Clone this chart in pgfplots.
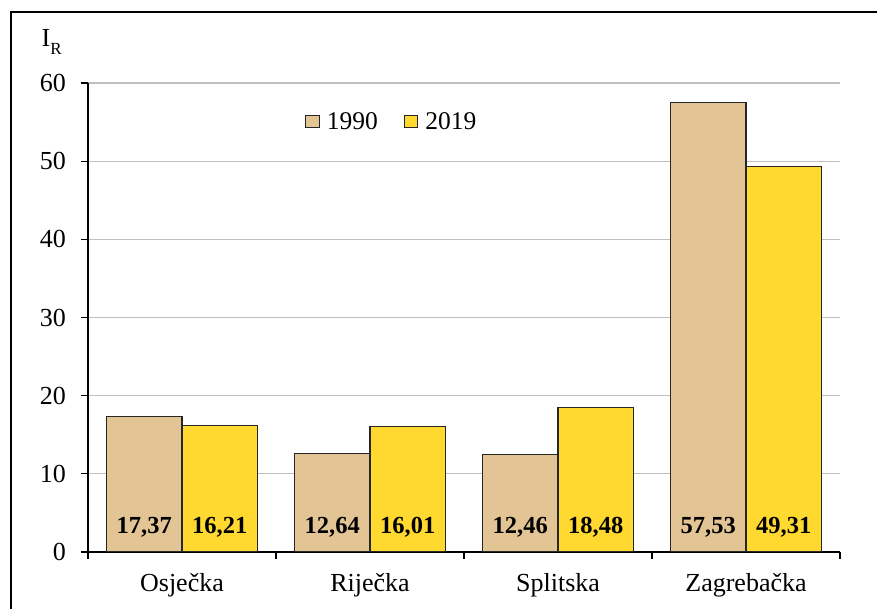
\documentclass[border=0pt]{standalone}
\usepackage{pgfplots}
\pgfplotsset{compat=1.18}
\usepackage{fontspec}
\setmainfont{Liberation Serif}
\definecolor{tanc}{RGB}{227,196,148}
\definecolor{yel}{RGB}{255,217,47}
\definecolor{gridc}{RGB}{192,192,192}
\begin{document}
\begin{tikzpicture}[x=1pt,y=1pt]
\useasboundingbox (0,0) rectangle (877,609);
\draw[line width=2pt] (10.5,-5) -- (10.5,596.5) -- (880,596.5);
\begin{axis}[
  at={(88pt,57pt)}, anchor=south west,
  scale only axis, width=752pt, height=469pt,
  xmin=-0.5, xmax=3.5, ymin=0, ymax=60,
  ybar=0pt, bar width=75.5pt,
  axis lines=left, axis line style={-, line width=1.3pt},
  tick align=outside,
  xtick={0,1,2,3}, xticklabels={Osječka,Riječka,Splitska,Zagrebačka},
  major x tick style={draw=none},
  minor xtick={-0.5,0.5,1.5,2.5,3.5},
  minor tick length=7pt,
  minor x tick style={line width=1.3pt, black},
  ytick={0,10,...,60},
  major tick length=7pt,
  y tick style={line width=1.3pt, black},
  ymajorgrids, grid style={gridc, line width=1.3pt},
  /pgf/number format/assume math mode=true,
  tick label style={font=\fontsize{26}{30}\selectfont},
  yticklabel style={inner sep=0pt, xshift=-15pt},
  xticklabel style={anchor=base, inner sep=0pt, yshift=-33pt},
  legend style={at={(0.2885,0.918)}, anchor=west, draw=none, fill=none,
    font=\fontsize{25.5}{30}\selectfont, inner sep=0pt,
    /tikz/every even column/.append style={column sep=24pt}},
  legend columns=2,
  legend image code/.code={\draw[#1, line width=1pt] (0pt,-5.75pt) rectangle (13.5pt,5.75pt); \path (18.5pt,0pt);},
]
\addplot[fill=tanc, draw=black!85, line width=1.2pt, bar shift=-37.75pt] coordinates {(0,17.37) (1,12.64) (2,12.46) (3,57.53)};
\addlegendentry{1990}
\addplot[fill=yel, draw=black!85, line width=1.2pt, bar shift=37.75pt] coordinates {(0,16.21) (1,16.01) (2,18.48) (3,49.31)};
\addlegendentry{2019}
\addplot[draw=none, fill=none, bar shift=-37.75pt, forget plot, nodes near coords, point meta=explicit symbolic,
  every node near coord/.append style={anchor=base, yshift=18pt, font=\bfseries\fontsize{24.5}{28}\selectfont}]
  table[meta=lab] {
x y lab
0 0 17,37
1 0 12,64
2 0 12,46
3 0 57,53
};
\addplot[draw=none, fill=none, bar shift=37.75pt, forget plot, nodes near coords, point meta=explicit symbolic,
  every node near coord/.append style={anchor=base, yshift=18pt, font=\bfseries\fontsize{24.5}{28}\selectfont}]
  table[meta=lab] {
x y lab
0 0 16,21
1 0 16,01
2 0 18,48
3 0 49,31
};
\end{axis}
\node[anchor=base west, inner sep=0pt, font=\fontsize{26}{30}\selectfont] at (41.5pt,562pt) {I\raisebox{-8pt}{\fontsize{17}{17}\selectfont R}};
\end{tikzpicture}
\end{document}
